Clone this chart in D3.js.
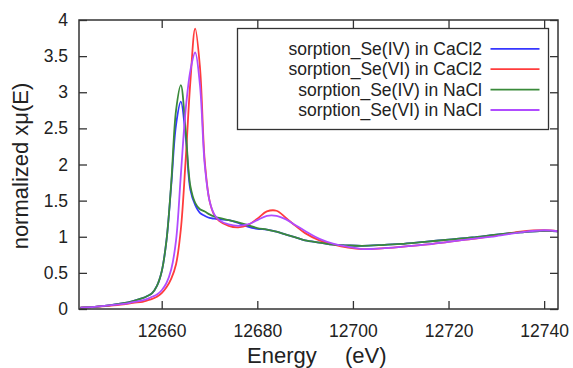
<!DOCTYPE html>
<html>
<head>
<meta charset="utf-8">
<script src="https://cdn.jsdelivr.net/npm/d3@7"></script>
<style>
  body { margin: 0; background: #fff; }
  text { font-family: "Liberation Sans", Arial, sans-serif; fill: #222; }
</style>
</head>
<body>
<svg id="chart" width="573" height="368"></svg>
<script>
// energy grid (eV) shared by all spectra
var energy = [12643, 12646, 12649, 12652, 12654, 12656, 12657, 12658, 12659, 12660,
              12661, 12662, 12663, 12664, 12665, 12666, 12667, 12668, 12669, 12670,
              12671, 12672, 12674, 12676, 12678, 12680, 12682, 12684, 12686, 12688,
              12690, 12693, 12696, 12699, 12702, 12706, 12710, 12715, 12720, 12725,
              12730, 12735, 12740, 12743];

var seIVCaCl2 = [0.02, 0.03, 0.05, 0.08, 0.11, 0.15, 0.18, 0.22, 0.32, 0.52,
                 0.95, 1.72, 2.55, 2.87, 2.40, 1.65, 1.44, 1.33, 1.29, 1.26,
                 1.25, 1.24, 1.23, 1.19, 1.14, 1.11, 1.10, 1.07, 1.03, 0.99,
                 0.95, 0.92, 0.89, 0.88, 0.875, 0.885, 0.90, 0.93, 0.96, 0.99,
                 1.03, 1.06, 1.08, 1.075];

var seVICaCl2 = [0.02, 0.03, 0.045, 0.065, 0.085, 0.10, 0.12, 0.14, 0.17, 0.22,
                 0.30, 0.42, 0.62, 1.10, 2.05, 3.15, 3.88, 3.35, 2.05, 1.50,
                 1.30, 1.22, 1.15, 1.13, 1.16, 1.25, 1.35, 1.36, 1.26, 1.15,
                 1.05, 0.95, 0.89, 0.85, 0.83, 0.84, 0.86, 0.89, 0.93, 0.97,
                 1.02, 1.07, 1.09, 1.075];

var seIVNaCl = [0.02, 0.03, 0.05, 0.08, 0.11, 0.15, 0.18, 0.22, 0.32, 0.52,
                0.95, 1.75, 2.75, 3.10, 2.48, 1.70, 1.47, 1.38, 1.35, 1.31,
                1.28, 1.26, 1.23, 1.20, 1.16, 1.12, 1.10, 1.07, 1.03, 0.99,
                0.95, 0.92, 0.89, 0.88, 0.875, 0.885, 0.90, 0.93, 0.96, 0.99,
                1.03, 1.06, 1.08, 1.075];

var seVINaCl = [0.02, 0.03, 0.05, 0.07, 0.095, 0.12, 0.14, 0.17, 0.20, 0.26,
                0.36, 0.55, 0.95, 1.85, 2.75, 3.30, 3.55, 3.10, 2.00, 1.50,
                1.31, 1.23, 1.17, 1.15, 1.17, 1.23, 1.29, 1.29, 1.24, 1.16,
                1.08, 0.97, 0.90, 0.86, 0.83, 0.84, 0.86, 0.89, 0.93, 0.97,
                1.01, 1.06, 1.09, 1.075];

var seriesNames = ["sorption_Se(IV) in CaCl2", "sorption_Se(VI) in CaCl2",
                   "sorption_Se(IV) in NaCl", "sorption_Se(VI) in NaCl"];
var seriesColors = ["#3636ff", "#ff3c3c", "#3a8a3a", "#b04cff"];
var seriesValues = [seIVCaCl2, seVICaCl2, seIVNaCl, seVINaCl];

var xTicks = [12660, 12680, 12700, 12720, 12740];
var yTicks = [0, 0.5, 1, 1.5, 2, 2.5, 3, 3.5, 4];

var svg = d3.select("#chart");
var plotL = 79, plotR = 558, plotT = 20, plotB = 309;
var tickLen = 8;

var x = d3.scaleLinear().domain([12642.7, 12742.9]).range([plotL, plotR]);
var y = d3.scaleLinear().domain([0, 4]).range([plotB, plotT]);

// axes: ticks point inward on all four sides
function axisStyle(g) {
    g.select(".domain").remove();
    g.selectAll(".tick line").attr("stroke", "#333").attr("stroke-width", 1.3);
    g.selectAll(".tick text").style("font-size", "17.5px").attr("fill", "#222");
}

svg.append("g")
    .attr("transform", "translate(0," + plotB + ")")
    .call(d3.axisBottom(x).tickValues(xTicks).tickFormat(d3.format("d"))
          .tickSizeInner(-tickLen).tickSizeOuter(0).tickPadding(16))
    .call(axisStyle);

svg.append("g")
    .attr("transform", "translate(0," + plotT + ")")
    .call(d3.axisTop(x).tickValues(xTicks).tickFormat("")
          .tickSizeInner(-tickLen).tickSizeOuter(0))
    .call(axisStyle);

svg.append("g")
    .attr("transform", "translate(" + plotL + ",0)")
    .call(d3.axisLeft(y).tickValues(yTicks).tickFormat(d3.format("~g"))
          .tickSizeInner(-tickLen).tickSizeOuter(0).tickPadding(11))
    .call(axisStyle);

svg.append("g")
    .attr("transform", "translate(" + plotR + ",0)")
    .call(d3.axisRight(y).tickValues(yTicks).tickFormat("")
          .tickSizeInner(-tickLen).tickSizeOuter(0))
    .call(axisStyle);

// spectra
var line = d3.line()
    .x(function(d, i) { return x(energy[i]); })
    .y(function(d) { return y(d); })
    .curve(d3.curveCatmullRom.alpha(0.5));

svg.append("clipPath").attr("id", "plotclip")
    .append("rect").attr("x", plotL).attr("y", plotT)
    .attr("width", plotR - plotL).attr("height", plotB - plotT);

svg.append("g").attr("clip-path", "url(#plotclip)")
    .selectAll("path")
    .data(seriesValues)
    .enter().append("path")
    .attr("d", line)
    .attr("fill", "none")
    .attr("stroke", function(d, i) { return seriesColors[i]; })
    .attr("stroke-width", 1.8)
    .attr("stroke-linejoin", "round");

// frame
svg.append("rect")
    .attr("x", plotL).attr("y", plotT)
    .attr("width", plotR - plotL).attr("height", plotB - plotT)
    .attr("fill", "none").attr("stroke", "#333").attr("stroke-width", 1.5);

// legend
var legend = svg.append("g");
legend.append("rect")
    .attr("x", 237.5).attr("y", 28.5).attr("width", 311).attr("height", 101)
    .attr("fill", "#fff").attr("stroke", "#333").attr("stroke-width", 1.3);

var rows = legend.selectAll("g.row")
    .data(seriesNames)
    .enter().append("g")
    .attr("class", "row")
    .attr("transform", function(d, i) { return "translate(0," + (48.8 + i * 20.4) + ")"; });

rows.append("text")
    .attr("x", 482).attr("dy", "0.35em")
    .attr("text-anchor", "end")
    .style("font-size", "17.5px")
    .text(function(d) { return d; });

rows.append("line")
    .attr("x1", 490.5).attr("x2", 539.5)
    .attr("stroke", function(d, i) { return seriesColors[i]; })
    .attr("stroke-width", 1.8);

// axis titles
svg.append("text")
    .attr("transform", "translate(28,166) rotate(-90)")
    .attr("text-anchor", "middle")
    .style("font-size", "22px")
    .text("normalized xμ(E)");

var xt = svg.append("text").attr("y", 363).style("font-size", "22px");
xt.append("tspan").attr("x", 247).text("Energy");
xt.append("tspan").attr("x", 345).text("(eV)");
</script>
</body>
</html>
